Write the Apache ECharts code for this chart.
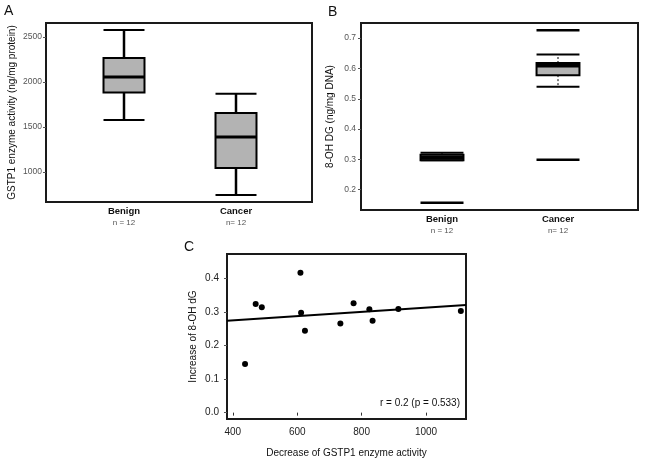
<!DOCTYPE html>
<html>
<head>
<meta charset="utf-8">
<script src="https://cdn.jsdelivr.net/npm/echarts@6/dist/echarts.min.js"></script>
<style>
html,body{margin:0;padding:0;background:#fff;}
#chart{width:645px;height:463px;}
</style>
</head>
<body>
<div id="chart"></div>
<script>
// ---------- data ----------
const categories = ['Benign', 'Cancer'];
const sampleSizes = ['n = 12', 'n= 12'];
// box statistics: [min, Q1, median, Q3, max]
const gstp1Stats = [
  [1578, 1883, 2056, 2267, 2578],
  [744, 1044, 1389, 1656, 1870]
];
const ohdgStats = [
  [0.297, 0.297, 0.305, 0.315, 0.322],
  [0.540, 0.578, 0.610, 0.618, 0.646]
];
const ohdgOutlierGroup = [0, 1, 1];
const ohdgOutlierValue = [0.157, 0.726, 0.299];
// panel C scatter
const gstp1Decrease = [438, 471, 490, 610, 612, 624, 734, 775, 824, 834, 914, 1108];
const ohdgIncrease = [0.145, 0.324, 0.314, 0.417, 0.298, 0.244, 0.266, 0.326, 0.308, 0.274, 0.309, 0.303];
const corrText = 'r = 0.2 (p = 0.533)';
const panelLabels = ['A', 'B', 'C'];
const titleA = 'GSTP1 enzyme activity (ng/mg protein)';
const titleB = '8-OH DG (ng/mg DNA)';
const titleCy = 'Increase of 8-OH dG';
const titleCx = 'Decrease of GSTP1 enzyme activity';

// ---------- derived ----------
const rangeA = [667, 2656];
const rangeB = [0.133, 0.75];
const rangeCx = [382, 1124];
const rangeCy = [-0.019, 0.473];

const n = gstp1Decrease.length;
const mx = gstp1Decrease.reduce((a, b) => a + b, 0) / n;
const my = ohdgIncrease.reduce((a, b) => a + b, 0) / n;
let sxy = 0, sxx = 0;
for (let i = 0; i < n; i++) {
  sxy += (gstp1Decrease[i] - mx) * (ohdgIncrease[i] - my);
  sxx += (gstp1Decrease[i] - mx) * (gstp1Decrease[i] - mx);
}
const slope = sxy / sxx;
const intercept = my - slope * mx;
const fitData = rangeCx.map(x => [x, intercept + slope * x]);

const FONT = 'Liberation Sans, Arial, Helvetica, sans-serif';

function boxRenderer(ratio, whiskerDash, whiskerWidth, medianWidth) {
  return function (params, api) {
    const c = api.value(0);
    const pMin = api.coord([c, api.value(1)]);
    const pQ1 = api.coord([c, api.value(2)]);
    const pMed = api.coord([c, api.value(3)]);
    const pQ3 = api.coord([c, api.value(4)]);
    const pMax = api.coord([c, api.value(5)]);
    const half = api.size([1, 0])[0] * ratio / 2;
    const x = pMed[0];
    const whisk = { stroke: '#000', lineWidth: whiskerWidth, lineDash: whiskerDash };
    const solid = { stroke: '#000', lineWidth: 2 };
    return {
      type: 'group',
      children: [
        { type: 'line', shape: { x1: x, y1: pQ3[1], x2: x, y2: pMax[1] }, style: whisk },
        { type: 'line', shape: { x1: x, y1: pQ1[1], x2: x, y2: pMin[1] }, style: whisk },
        { type: 'line', shape: { x1: x - half, y1: pMax[1], x2: x + half, y2: pMax[1] }, style: solid },
        { type: 'line', shape: { x1: x - half, y1: pMin[1], x2: x + half, y2: pMin[1] }, style: solid },
        { type: 'rect', shape: { x: x - half, y: pQ3[1], width: 2 * half, height: pQ1[1] - pQ3[1] },
          style: { fill: '#b3b3b3', stroke: '#000', lineWidth: 2 } },
        { type: 'line', shape: { x1: x - half, y1: pMed[1], x2: x + half, y2: pMed[1] },
          style: { stroke: '#000', lineWidth: medianWidth } }
      ]
    };
  };
}

function catLabel() {
  return {
    margin: 4,
    interval: 0,
    formatter: (v, i) => '{a|' + categories[i] + '}\n{b|' + sampleSizes[i] + '}',
    rich: {
      a: { fontFamily: FONT, fontSize: 9.5, fontWeight: 'bold', color: '#111', lineHeight: 11 },
      b: { fontFamily: FONT, fontSize: 8, color: '#555', lineHeight: 11 }
    }
  };
}

function valueY(gridIndex, range, splitNumber, name, nameGap, labelSize, labelColor, labelMargin, fmt) {
  return {
    type: 'value', gridIndex, min: range[0], max: range[1], splitNumber,
    name, nameLocation: 'middle', nameGap,
    nameTextStyle: { fontFamily: FONT, fontSize: 10, color: '#111' },
    axisLine: { show: false },
    axisTick: { show: true, length: 3, lineStyle: { color: '#555', width: 1 } },
    splitLine: { show: false },
    axisLabel: { fontFamily: FONT, fontSize: labelSize, color: labelColor, margin: labelMargin,
      showMinLabel: false, showMaxLabel: false, formatter: fmt }
  };
}

const plain = v => String(Math.round(v));
const oneDec = v => v.toFixed(1);

const frameStyle = { show: true, borderColor: '#1a1a1a', borderWidth: 2, backgroundColor: 'transparent' };

const option = {
  animation: false,
  backgroundColor: '#fff',
  textStyle: { fontFamily: FONT },
  grid: [
    Object.assign({ left: 46, top: 23, width: 266, height: 179 }, frameStyle),
    { left: 68, top: 23, width: 224, height: 179, show: false },
    Object.assign({ left: 361, top: 23, width: 277, height: 187 }, frameStyle),
    { left: 384, top: 23, width: 232, height: 187, show: false },
    Object.assign({ left: 227, top: 254, width: 239, height: 165 }, frameStyle)
  ],
  xAxis: [
    { type: 'value', gridIndex: 0, show: false, min: 0, max: 1 },
    { type: 'category', gridIndex: 1, data: categories,
      axisLine: { show: false }, axisTick: { show: false }, axisLabel: catLabel() },
    { type: 'value', gridIndex: 2, show: false, min: 0, max: 1 },
    { type: 'category', gridIndex: 3, data: categories,
      axisLine: { show: false }, axisTick: { show: false }, axisLabel: catLabel() },
    { type: 'value', gridIndex: 4, min: rangeCx[0], max: rangeCx[1], splitNumber: 4,
      name: titleCx, nameLocation: 'middle', nameGap: 29,
      nameTextStyle: { fontFamily: FONT, fontSize: 10, color: '#111' },
      axisLine: { show: false },
      axisTick: { show: true, length: 3, lineStyle: { color: '#333' } },
      splitLine: { show: false },
      axisLabel: { fontFamily: FONT, fontSize: 10, color: '#222', margin: 8,
        showMinLabel: false, showMaxLabel: false, formatter: plain } }
  ],
  yAxis: [
    valueY(0, rangeA, 4, titleA, 29, 8.5, '#555', 4, plain),
    { type: 'value', gridIndex: 1, show: false, min: rangeA[0], max: rangeA[1] },
    valueY(2, rangeB, 6, titleB, 26, 8.5, '#555', 5, oneDec),
    { type: 'value', gridIndex: 3, show: false, min: rangeB[0], max: rangeB[1] },
    valueY(4, rangeCy, 5, titleCy, 29, 10, '#222', 8, oneDec)
  ],
  graphic: [
    { type: 'text', left: 4, top: 4, style: { text: panelLabels[0], font: '14px ' + FONT, fill: '#111' } },
    { type: 'text', left: 328, top: 5, style: { text: panelLabels[1], font: '14px ' + FONT, fill: '#111' } },
    { type: 'text', left: 184, top: 240, style: { text: panelLabels[2], font: '14px ' + FONT, fill: '#111' } },
    { type: 'text', right: 645 - 460, top: 398, style: { text: corrText, font: '10px ' + FONT, fill: '#111' } }
  ],
  series: [
    { type: 'custom', xAxisIndex: 1, yAxisIndex: 1,
      renderItem: boxRenderer(0.366, null, 2.5, 3),
      encode: { x: 0, y: [1, 2, 3, 4, 5] },
      data: gstp1Stats.map((s, i) => [i].concat(s)) },
    { type: 'custom', xAxisIndex: 3, yAxisIndex: 3,
      renderItem: boxRenderer(0.37, [2, 2], 1, 4),
      encode: { x: 0, y: [1, 2, 3, 4, 5] },
      data: ohdgStats.map((s, i) => [i].concat(s)) },
    { type: 'scatter', xAxisIndex: 3, yAxisIndex: 3,
      symbol: 'rect', symbolSize: [43, 2.5],
      itemStyle: { color: '#000', opacity: 1 },
      data: ohdgOutlierGroup.map((g, i) => [g, ohdgOutlierValue[i]]) },
    { type: 'scatter', xAxisIndex: 4, yAxisIndex: 4,
      symbol: 'circle', symbolSize: 6,
      itemStyle: { color: '#000', opacity: 1 },
      data: gstp1Decrease.map((x, i) => [x, ohdgIncrease[i]]) },
    { type: 'line', xAxisIndex: 4, yAxisIndex: 4,
      showSymbol: false, symbol: 'none',
      lineStyle: { color: '#000', width: 2 },
      data: fitData }
  ]
};

const chart = echarts.init(document.getElementById('chart'), null, { renderer: 'canvas' });
chart.setOption(option);
</script>
</body>
</html>
